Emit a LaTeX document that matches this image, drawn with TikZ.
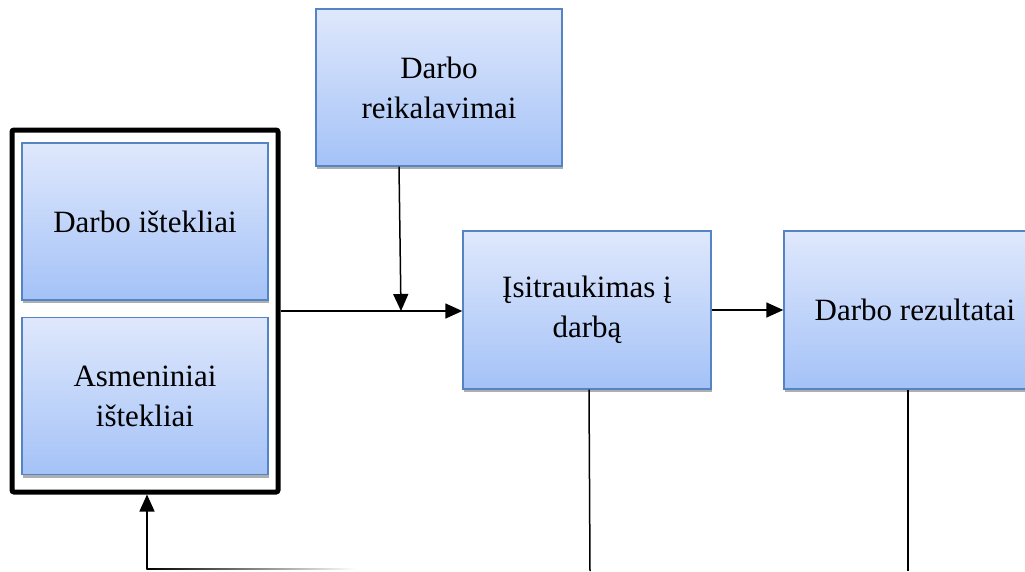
\documentclass[tikz,border=0pt]{standalone}
\usepackage{fontspec}
\setmainfont{Liberation Serif}
\usetikzlibrary{arrows.meta,shadows}
\definecolor{boxborder}{HTML}{5584C4}
\definecolor{boxtop}{HTML}{DFE8FC}
\definecolor{boxbot}{HTML}{A4C2F7}
\tikzset{
  bluebox/.style={draw=boxborder, line width=1.4pt, top color=boxtop, bottom color=boxbot,
    minimum width=246pt, minimum height=157pt, inner sep=0pt, align=center,
    font=\fontsize{31}{40}\selectfont,
    drop shadow={shadow xshift=1pt, shadow yshift=-3pt, opacity=0.45, fill=black!70}},
  conn/.style={line width=1.5pt, -{Triangle[length=17pt,width=15pt]}},
  plain/.style={line width=1.5pt}
}
\begin{document}
\begin{tikzpicture}[x=1pt,y=-1pt]
\useasboundingbox (0,0) rectangle (1025,571);
\clip (0,0) rectangle (1025,571);
% outer frame
\node[draw=black, line width=5pt, rounded corners=2pt, minimum width=266pt, minimum height=362pt, inner sep=0pt] (frame) at (145,311) {};
\node[bluebox] (di) at (145,221.5) {Darbo ištekliai};
\node[bluebox] (ai) at (145,396) {Asmeniniai\\ištekliai};
\node[bluebox] (dr) at (439,87.5) {Darbo\\reikalavimai};
\node[bluebox, minimum width=248pt, minimum height=158pt] (is) at (587,310) {Įsitraukimas į\\darbą};
\node[bluebox, minimum width=248pt, minimum height=158pt] (rz) at (908,310) {\hspace*{14pt}Darbo rezultatai};
% connectors
\coordinate (join) at (401,311);
\draw[conn] (frame.east |- 0,311) -- (is.west |- 0,311);
\draw[conn] (dr.south -| 399,0) -- (join);
\draw[conn] (is.east) -- (rz.west);
\coordinate (b1) at (590,571);
\coordinate (b2) at (908,571);
\draw[plain] (is.south -| 589,0) -- (b1);
\draw[plain] (rz.south) -- (b2);
\coordinate (corner) at (147,569);
\shade[left color=black, right color=white] (146.25,568.25) rectangle (355,569.75);
\draw[conn] (corner) -- (frame.south -| 147,0);
\end{tikzpicture}
\end{document}
